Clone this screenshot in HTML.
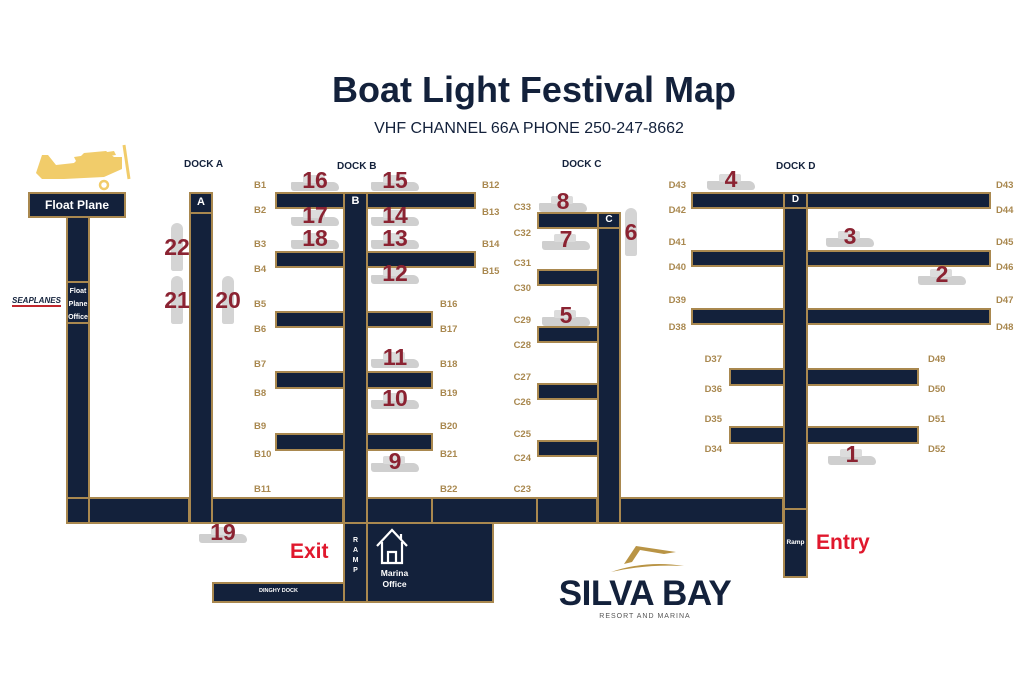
<!DOCTYPE html>
<html><head><meta charset="utf-8"><style>
*{margin:0;padding:0;box-sizing:border-box}
body{width:1024px;height:684px;background:#fff;position:relative;overflow:hidden;font-family:"Liberation Sans",sans-serif}
.d{position:absolute;background:#13213b;border:2px solid #a9884f}
.l{position:absolute;color:#a9884f;font-size:9.5px;font-weight:bold;line-height:10px}
.r{text-align:right;width:40px}
.t{position:absolute;color:#13213b;font-weight:bold;font-size:10px}
.w{position:absolute;color:#fff;font-weight:bold;text-align:center}
.b{position:absolute;width:52px;height:20px;margin-left:-26px;margin-top:-10px}
.b:before{content:"";position:absolute;left:2px;right:2px;bottom:2px;height:9px;background:#cfcfcf;border-radius:2px 10px 5px 5px}
.b:after{content:"";position:absolute;left:14px;width:22px;top:2px;height:8px;background:#dcdcdc;border-radius:2px}
.b span,.v span{position:absolute;left:-6px;right:-6px;top:-6px;text-align:center;color:#8b2332;font-weight:bold;font-size:23px;z-index:2}
.v{position:absolute;width:20px;height:48px;margin-left:-10px;margin-top:-24px}
.v:before{content:"";position:absolute;left:4px;right:4px;top:0;bottom:0;background:#d4d4d4;border-radius:8px 8px 3px 3px}
.v span{top:11px;left:-10px;right:-10px}
</style></head><body>
<div style="position:absolute;left:0;width:1024px;top:69px;text-align:center;font-size:36px;font-weight:bold;color:#13213b;padding-left:44px">Boat Light Festival Map</div>
<div style="position:absolute;left:0;width:1024px;top:120px;text-align:center;font-size:16px;color:#13213b;padding-left:34px">VHF CHANNEL 66A PHONE 250-247-8662</div>

<svg style="position:absolute;left:34px;top:143px" width="100" height="48" viewBox="0 0 100 48">
<path d="M2 30 L8 12 L14 12 L22 22 L40 20 L50 10 L72 8 L80 14 L88 14 L88 26 L70 34 L30 36 L8 36 Z" fill="#f1cc6a"/>
<path d="M40 14 L80 8 L82 12 L42 18 Z" fill="#f1cc6a"/>
<line x1="90" y1="2" x2="95" y2="36" stroke="#f1cc6a" stroke-width="3"/>
<circle cx="70" cy="42" r="4" fill="none" stroke="#f1cc6a" stroke-width="2.5"/>
</svg>

<div class="d" style="left:28px;top:192px;width:98px;height:26px"></div>
<div class="w" style="left:28px;top:198px;width:98px;font-size:12px">Float Plane</div>
<div class="d" style="left:66px;top:216px;width:24px;height:308px"></div>
<div class="d" style="left:66px;top:281px;width:24px;height:43px"></div>
<div class="w" style="left:66px;top:285px;width:24px;font-size:7px;line-height:13px">Float<br>Plane<br>Office</div>
<div style="position:absolute;left:12px;top:296px;font-size:8px;font-weight:bold;color:#13213b;font-style:italic;border-bottom:2px solid #c1272d">SEAPLANES</div>

<div class="d" style="left:66px;top:497px;width:718px;height:27px"></div>
<div class="d" style="left:88px;top:497px;width:102px;height:27px"></div>
<div class="d" style="left:211px;top:497px;width:133px;height:27px"></div>
<div class="d" style="left:366px;top:497px;width:67px;height:27px"></div>
<div class="d" style="left:431px;top:497px;width:107px;height:27px"></div>
<div class="d" style="left:536px;top:497px;width:62px;height:27px"></div>
<div class="d" style="left:619px;top:497px;width:165px;height:27px"></div>

<div class="d" style="left:189px;top:192px;width:24px;height:332px"></div>
<div class="d" style="left:189px;top:192px;width:24px;height:22px"></div>
<div class="w" style="left:189px;top:196px;width:24px;font-size:11px">A</div>

<div class="d" style="left:275px;top:192px;width:201px;height:17px"></div>
<div class="d" style="left:275px;top:251px;width:201px;height:17px"></div>
<div class="d" style="left:275px;top:311px;width:158px;height:17px"></div>
<div class="d" style="left:275px;top:371px;width:158px;height:18px"></div>
<div class="d" style="left:275px;top:433px;width:158px;height:18px"></div>
<div class="d" style="left:343px;top:192px;width:25px;height:411px"></div>
<div class="w" style="left:343px;top:195px;width:25px;font-size:11px">B</div>
<div class="d" style="left:343px;top:522px;width:25px;height:81px"></div>
<div class="w" style="left:343px;top:536px;width:25px;font-size:7px;line-height:10px">R<br>A<br>M<br>P</div>
<div class="d" style="left:366px;top:522px;width:128px;height:81px"></div>
<svg style="position:absolute;left:374px;top:526px" width="40" height="40" viewBox="0 0 40 40"><path d="M3 20 L18 4 L33 20 M27 8 V14 M8 16 V37 H28 V16 M14 37 V26 H22 V37" fill="none" stroke="#fff" stroke-width="2.2"/></svg>
<div class="w" style="left:372px;top:568px;width:45px;font-size:8.5px;line-height:11px">Marina<br>Office</div>
<div class="d" style="left:212px;top:582px;width:133px;height:21px"></div>
<div class="w" style="left:212px;top:588px;width:133px;font-size:5.5px">DINGHY DOCK</div>

<div class="d" style="left:537px;top:212px;width:84px;height:17px"></div>
<div class="d" style="left:597px;top:212px;width:24px;height:312px"></div>
<div class="d" style="left:597px;top:212px;width:24px;height:17px"></div>
<div class="w" style="left:597px;top:214px;width:24px;font-size:10px">C</div>
<div class="d" style="left:537px;top:269px;width:62px;height:17px"></div>
<div class="d" style="left:537px;top:326px;width:62px;height:17px"></div>
<div class="d" style="left:537px;top:383px;width:62px;height:17px"></div>
<div class="d" style="left:537px;top:440px;width:62px;height:17px"></div>

<div class="d" style="left:691px;top:192px;width:300px;height:17px"></div>
<div class="d" style="left:691px;top:250px;width:300px;height:17px"></div>
<div class="d" style="left:691px;top:308px;width:300px;height:17px"></div>
<div class="d" style="left:729px;top:368px;width:190px;height:18px"></div>
<div class="d" style="left:729px;top:426px;width:190px;height:18px"></div>
<div class="d" style="left:783px;top:192px;width:25px;height:386px"></div>
<div class="d" style="left:783px;top:192px;width:25px;height:17px"></div>
<div class="w" style="left:783px;top:194px;width:25px;font-size:10px">D</div>
<div class="d" style="left:783px;top:508px;width:25px;height:70px"></div>
<div class="w" style="left:783px;top:539px;width:25px;font-size:6.5px">Ramp</div>

<div class="t" style="left:184px;top:159px">DOCK A</div>
<div class="t" style="left:337px;top:161px">DOCK B</div>
<div class="t" style="left:562px;top:159px">DOCK C</div>
<div class="t" style="left:776px;top:161px">DOCK D</div>
<div style="position:absolute;left:290px;top:540px;color:#e0182d;font-weight:bold;font-size:21px">Exit</div>
<div style="position:absolute;left:816px;top:531px;color:#e0182d;font-weight:bold;font-size:21px">Entry</div>

<svg style="position:absolute;left:606px;top:542px" width="80" height="34" viewBox="0 0 80 34"><path d="M5 30 Q40 18 78 24 Q40 22 5 30Z M18 22 L30 4 L70 10 L58 12 L34 8 L26 20 Z" fill="#b99445"/></svg>
<div style="position:absolute;left:545px;top:574px;width:200px;text-align:center;font-size:35px;font-weight:bold;color:#13213b;letter-spacing:-0.5px">SILVA BAY</div>
<div style="position:absolute;left:545px;top:613px;width:200px;text-align:center;font-size:7px;color:#555;letter-spacing:1px">RESORT AND MARINA</div>

<div class="l" style="left:254px;top:181px">B1</div><div class="l" style="left:254px;top:206px">B2</div>
<div class="l" style="left:254px;top:240px">B3</div><div class="l" style="left:254px;top:265px">B4</div>
<div class="l" style="left:254px;top:300px">B5</div><div class="l" style="left:254px;top:325px">B6</div>
<div class="l" style="left:254px;top:360px">B7</div><div class="l" style="left:254px;top:389px">B8</div>
<div class="l" style="left:254px;top:422px">B9</div><div class="l" style="left:254px;top:450px">B10</div>
<div class="l" style="left:254px;top:485px">B11</div>
<div class="l" style="left:482px;top:181px">B12</div><div class="l" style="left:482px;top:208px">B13</div>
<div class="l" style="left:482px;top:240px">B14</div><div class="l" style="left:482px;top:267px">B15</div>
<div class="l" style="left:440px;top:300px">B16</div><div class="l" style="left:440px;top:325px">B17</div>
<div class="l" style="left:440px;top:360px">B18</div><div class="l" style="left:440px;top:389px">B19</div>
<div class="l" style="left:440px;top:422px">B20</div><div class="l" style="left:440px;top:450px">B21</div>
<div class="l" style="left:440px;top:485px">B22</div>
<div class="l r" style="left:491px;top:203px">C33</div><div class="l r" style="left:491px;top:229px">C32</div>
<div class="l r" style="left:491px;top:259px">C31</div><div class="l r" style="left:491px;top:284px">C30</div>
<div class="l r" style="left:491px;top:316px">C29</div><div class="l r" style="left:491px;top:341px">C28</div>
<div class="l r" style="left:491px;top:373px">C27</div><div class="l r" style="left:491px;top:398px">C26</div>
<div class="l r" style="left:491px;top:430px">C25</div><div class="l r" style="left:491px;top:454px">C24</div>
<div class="l r" style="left:491px;top:485px">C23</div>
<div class="l r" style="left:646px;top:181px">D43</div><div class="l r" style="left:646px;top:206px">D42</div>
<div class="l r" style="left:646px;top:238px">D41</div><div class="l r" style="left:646px;top:263px">D40</div>
<div class="l r" style="left:646px;top:296px">D39</div><div class="l r" style="left:646px;top:323px">D38</div>
<div class="l r" style="left:682px;top:355px">D37</div><div class="l r" style="left:682px;top:385px">D36</div>
<div class="l r" style="left:682px;top:415px">D35</div><div class="l r" style="left:682px;top:445px">D34</div>
<div class="l" style="left:996px;top:181px">D43</div><div class="l" style="left:996px;top:206px">D44</div>
<div class="l" style="left:996px;top:238px">D45</div><div class="l" style="left:996px;top:263px">D46</div>
<div class="l" style="left:996px;top:296px">D47</div><div class="l" style="left:996px;top:323px">D48</div>
<div class="l" style="left:928px;top:355px">D49</div><div class="l" style="left:928px;top:385px">D50</div>
<div class="l" style="left:928px;top:415px">D51</div><div class="l" style="left:928px;top:445px">D52</div>

<div class="b" style="left:315px;top:183px"><span>16</span></div>
<div class="b" style="left:395px;top:183px"><span>15</span></div>
<div class="b" style="left:315px;top:218px"><span>17</span></div>
<div class="b" style="left:395px;top:218px"><span>14</span></div>
<div class="b" style="left:315px;top:241px"><span>18</span></div>
<div class="b" style="left:395px;top:241px"><span>13</span></div>
<div class="b" style="left:395px;top:276px"><span>12</span></div>
<div class="b" style="left:395px;top:360px"><span>11</span></div>
<div class="b" style="left:395px;top:401px"><span>10</span></div>
<div class="b" style="left:395px;top:464px"><span>9</span></div>
<div class="b" style="left:223px;top:535px"><span>19</span></div>
<div class="b" style="left:563px;top:204px"><span>8</span></div>
<div class="b" style="left:566px;top:242px"><span>7</span></div>
<div class="b" style="left:566px;top:318px"><span>5</span></div>
<div class="b" style="left:731px;top:182px"><span>4</span></div>
<div class="b" style="left:850px;top:239px"><span>3</span></div>
<div class="b" style="left:942px;top:277px"><span>2</span></div>
<div class="b" style="left:852px;top:457px"><span>1</span></div>
<div class="v" style="left:631px;top:232px"><span>6</span></div>
<div class="v" style="left:177px;top:247px"><span>22</span></div>
<div class="v" style="left:177px;top:300px"><span>21</span></div>
<div class="v" style="left:228px;top:300px"><span>20</span></div>
</body></html>
